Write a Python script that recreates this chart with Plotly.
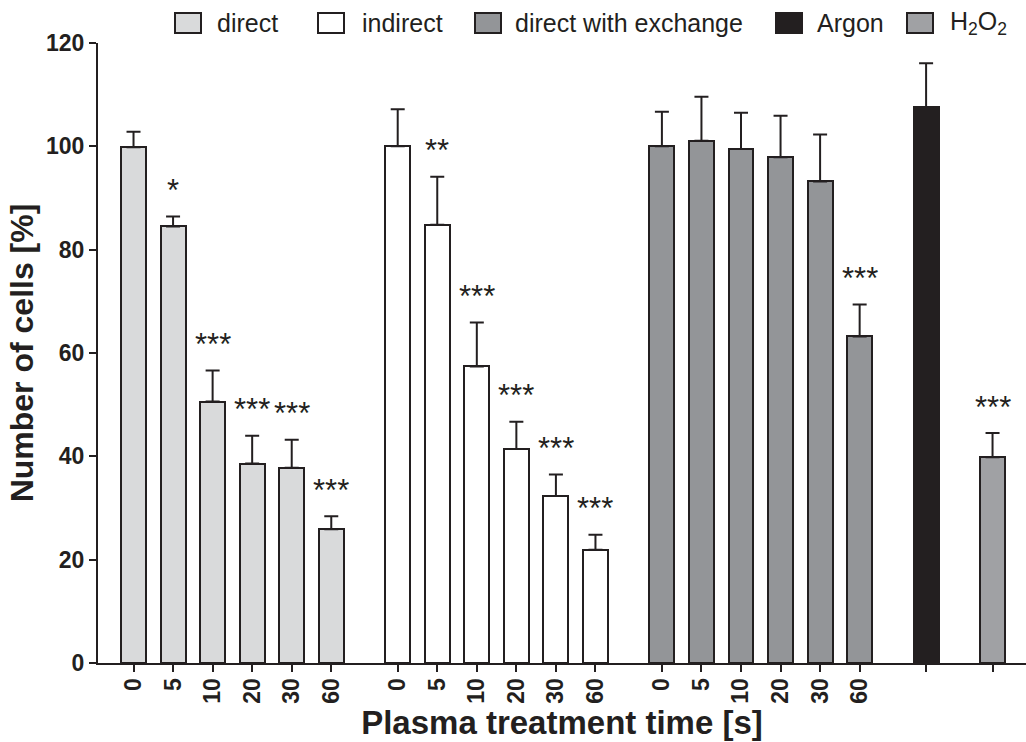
import plotly.graph_objects as go

# ---------------- data ----------------
time_labels = ["0", "5", "10", "20", "30", "60"]

direct_vals = [99.8, 84.5, 50.6, 38.6, 37.8, 25.9]
direct_err_top = [102.8, 86.4, 56.6, 44.0, 43.2, 28.4]
direct_sig = ["", "*", "***", "***", "***", "***"]

indirect_vals = [100.0, 84.8, 57.4, 41.4, 32.3, 21.9]
indirect_err_top = [107.2, 94.1, 65.9, 46.7, 36.5, 24.8]
indirect_sig = ["", "**", "***", "***", "***", "***"]

exchange_vals = [100.0, 101.1, 99.5, 97.9, 93.2, 63.2]
exchange_err_top = [106.7, 109.6, 106.5, 105.9, 102.3, 69.4]
exchange_sig = ["", "", "", "", "", "***"]

argon_vals = [107.6]
argon_err_top = [116.1]
argon_sig = [""]

h2o2_vals = [39.8]
h2o2_err_top = [44.5]
h2o2_sig = ["***"]

series_names = ["direct", "indirect", "direct with exchange", "Argon", "H<sub>2</sub>O<sub>2</sub>"]
series_colors = ["#d9dadb", "#ffffff", "#939598", "#231f20", "#a0a1a4"]

# ---------------- layout constants ----------------
INK = "#231f20"
FONT = "Arial, Liberation Sans, sans-serif"
W, H = 1026, 742
ML, MR, MT, MB = 98, 0, 43, 79
PW, PH = W - ML - MR, H - MT - MB
GROUP_GAP = 1.68
BAR_W = 0.63
XMIN = -0.898
XMAX = XMIN + PW / 39.55

groups = [
    (direct_vals, direct_err_top, direct_sig, time_labels),
    (indirect_vals, indirect_err_top, indirect_sig, time_labels),
    (exchange_vals, exchange_err_top, exchange_sig, time_labels),
    (argon_vals, argon_err_top, argon_sig, None),
    (h2o2_vals, h2o2_err_top, h2o2_sig, None),
]

fig = go.Figure()
tickvals, ticktext, minorvals = [], [], []
annotations = []
pos = 0.0
for gi, (vals, errs, sigs, labels) in enumerate(groups):
    xs = [pos + i for i in range(len(vals))]
    fig.add_trace(go.Bar(
        x=xs, y=vals, width=BAR_W, name=series_names[gi], showlegend=False,
        marker=dict(color=series_colors[gi], line=dict(color=INK, width=2)),
        error_y=dict(type="data", symmetric=False,
                     array=[e - v for e, v in zip(errs, vals)],
                     arrayminus=[0] * len(vals),
                     color=INK, thickness=2, width=7),
    ))
    if labels:
        tickvals += xs
        ticktext += labels
    else:
        minorvals += xs
    for x, e, s in zip(xs, errs, sigs):
        if s:
            annotations.append(dict(
                x=x, y=e, xref="x", yref="y", text=s, showarrow=False,
                yanchor="middle", yshift=26,
                font=dict(family=FONT, size=31, color=INK)))
    pos = xs[-1] + GROUP_GAP

# ---------------- manual legend ----------------
def px_x(p):
    return (p - ML) / PW

def px_y(p):
    return (H - MB - p) / PH

legend_box_left = [175, 318, 475, 776, 907]
legend_text_left = [215, 360, 513, 815, 948]
shapes = []
for i in range(len(series_names)):
    shapes.append(dict(type="rect", xref="paper", yref="paper",
                       x0=px_x(legend_box_left[i]), x1=px_x(legend_box_left[i] + 26),
                       y0=px_y(33), y1=px_y(13),
                       fillcolor=series_colors[i], line=dict(color=INK, width=2)))
    annotations.append(dict(x=px_x(legend_text_left[i]), y=px_y(23), xref="paper", yref="paper",
                            xanchor="left", yanchor="middle", showarrow=False,
                            text=series_names[i],
                            font=dict(family=FONT, size=25, color=INK)))

fig.update_layout(
    width=W, height=H,
    margin=dict(l=ML, r=MR, t=MT, b=MB, pad=0),
    paper_bgcolor="white", plot_bgcolor="white",
    bargap=0, showlegend=False,
    shapes=shapes, annotations=annotations,
    font=dict(family=FONT, color=INK),
)
fig.update_xaxes(
    range=[XMIN, XMAX], tickmode="array", tickvals=tickvals, ticktext=ticktext,
    tickangle=-90, ticks="outside", ticklen=7, tickwidth=2, tickcolor=INK,
    ticklabelstandoff=-3,
    minor=dict(tickmode="array", tickvals=minorvals, ticks="outside",
               ticklen=7, tickwidth=2, tickcolor=INK, showgrid=False),
    showline=True, linecolor=INK, linewidth=2, showgrid=False, zeroline=False,
    tickfont=dict(family=FONT, size=23, color=INK, weight="bold"),
    title=dict(text="Plasma treatment time [s]", standoff=4,
               font=dict(family=FONT, size=33, color=INK, weight="bold")),
)
fig.update_yaxes(
    range=[0, 120], dtick=20, ticks="outside", ticklen=7, tickwidth=2, tickcolor=INK,
    showline=True, linecolor=INK, linewidth=2, showgrid=False, zeroline=False,
    tickfont=dict(family=FONT, size=23, color=INK, weight="bold"),
    title=dict(text="Number of cells [%]", standoff=3,
               font=dict(family=FONT, size=32, color=INK, weight="bold")),
)

fig.write_html("out.html")
